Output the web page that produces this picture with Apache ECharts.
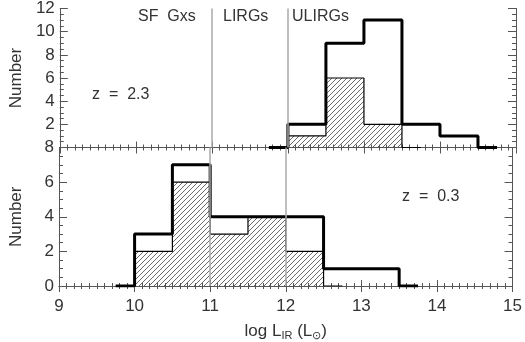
<!DOCTYPE html>
<html>
<head>
<meta charset="utf-8">
<title></title>
<script src="https://cdn.jsdelivr.net/npm/echarts@6/dist/echarts.min.js"></script>
<style>
  html, body { margin: 0; padding: 0; background: #fff; }
  #container { width: 525px; height: 342px; }
</style>
</head>
<body>
<div id="container"></div>
<script type="text/javascript">
// bin edges and counts (each count belongs to [edge i, edge i+1])
var lowzEdges = [9.75, 10, 10.5, 11, 11.5, 12, 12.5, 13, 13.5, 13.75];
var lowzTotal = [0, 3, 7, 4, 4, 4, 1, 1, 0];
var lowzHatchEdges = [9.75, 10, 10.5, 11, 11.5, 12, 12.5, 12.75];
var lowzHatched = [0, 2, 6, 3, 4, 2, 0];

var highzEdges = [11.75, 12, 12.5, 13, 13.5, 14, 14.5, 14.75];
var highzTotal = [0, 2, 9, 11, 2, 1, 0];
var highzHatchEdges = [11.75, 12, 12.5, 13, 13.5, 13.75];
var highzHatched = [0, 1, 6, 2, 0];

var classBounds = [11, 12];
var classNames = ['SF  Gxs', 'LIRGs', 'ULIRGs'];

var FONT = 'Liberation Sans';
var TXT = '#333';
var AX = '#555';

function stepData(edges, counts) {
    var out = [];
    for (var i = 0; i < counts.length; i++) {
        out.push([edges[i], counts[i]]);
    }
    out.push([edges[edges.length - 1], counts[counts.length - 1]]);
    return out;
}

// hatch pattern
var hatch = document.createElement('canvas');
hatch.width = 5;
hatch.height = 5;
var hc = hatch.getContext('2d');
hc.strokeStyle = '#444';
hc.lineWidth = 0.8;
hc.beginPath();
hc.moveTo(-1, 6); hc.lineTo(6, -1);
hc.moveTo(-1, 1); hc.lineTo(1, -1);
hc.moveTo(4, 6); hc.lineTo(6, 4);
hc.stroke();

function xAx(grid, pos, labels) {
    return {
        type: 'value', gridIndex: grid, position: pos,
        min: 9, max: 15, interval: 1,
        axisLine: { show: true, lineStyle: { color: AX, width: 1 } },
        axisTick: { show: true, inside: true, length: 6, lineStyle: { color: AX } },
        minorTick: { show: true, splitNumber: 10, length: 3, lineStyle: { color: AX } },
        splitLine: { show: false },
        axisLabel: { show: labels, margin: 12, color: TXT, fontFamily: FONT, fontSize: 17 }
    };
}

function yAx(grid, pos, max, labels, hideZero) {
    return {
        type: 'value', gridIndex: grid, position: pos,
        min: 0, max: max, interval: 2,
        name: labels ? 'Number' : '',
        nameLocation: 'middle', nameGap: 34, nameRotate: 90,
        nameTextStyle: { color: TXT, fontFamily: FONT, fontSize: 17 },
        axisLine: { show: true, lineStyle: { color: AX, width: 1 } },
        axisTick: { show: true, inside: true, length: 8, lineStyle: { color: AX } },
        minorTick: { show: true, splitNumber: 4, length: 4, lineStyle: { color: AX } },
        splitLine: { show: false },
        axisLabel: {
            show: labels, margin: 5, color: TXT, fontFamily: FONT, fontSize: 17,
            formatter: function (v) { return (hideZero && v === 0) ? '' : String(v); }
        }
    };
}

var classLines = {
    silent: true, symbol: 'none',
    label: { show: false },
    lineStyle: { color: '#aaa', width: 1.5, type: 'solid' },
    data: classBounds.map(function (b) { return { xAxis: b }; })
};

var xName = xAx(1, 'bottom', true);
xName.name = 'log L{sub|IR} (L{sub|⊙})';
xName.nameLocation = 'middle';
xName.nameGap = 35;
xName.nameTextStyle = {
    color: TXT, fontFamily: FONT, fontSize: 17,
    rich: { sub: { fontSize: 11, fontFamily: FONT, color: TXT, padding: [9, 0, 0, 0] } }
};

var chart = echarts.init(document.getElementById('container'));
chart.setOption({
    animation: false,
    grid: [
        { left: 53, right: 9, top: 0.5, height: 147 },
        { left: 53, right: 9, top: 147.5, height: 143.5 }
    ],
    xAxis: [xAx(0, 'bottom', false), xAx(0, 'top', false), xName, xAx(1, 'top', false)],
    yAxis: [yAx(0, 'left', 12, true, true), yAx(0, 'right', 12, false), yAx(1, 'left', 8, true, false), yAx(1, 'right', 8, false)],
    graphic: [
        { type: 'text', left: 138, top: 9, style: { text: classNames[0], fill: TXT, font: '16px ' + FONT } },
        { type: 'text', left: 223, top: 9, style: { text: classNames[1], fill: TXT, font: '16px ' + FONT } },
        { type: 'text', left: 292, top: 9, style: { text: classNames[2], fill: TXT, font: '16px ' + FONT } },
        { type: 'text', left: 92, top: 87, style: { text: 'z  =  2.3', fill: TXT, font: '16px ' + FONT } },
        { type: 'text', left: 402, top: 189, style: { text: 'z  =  0.3', fill: TXT, font: '16px ' + FONT } }
    ],
    series: [
        {
            type: 'line', xAxisIndex: 0, yAxisIndex: 0, step: 'end', showSymbol: false, z: 1,
            data: stepData(highzHatchEdges, highzHatched),
            lineStyle: { color: '#000', width: 1.2 },
            areaStyle: { color: { image: hatch, repeat: 'repeat' }, opacity: 1 },
            markLine: classLines
        },
        {
            type: 'line', xAxisIndex: 0, yAxisIndex: 0, step: 'end', showSymbol: false, z: 3,
            data: stepData(highzEdges, highzTotal),
            lineStyle: { color: '#000', width: 3 }
        },
        {
            type: 'line', xAxisIndex: 2, yAxisIndex: 2, step: 'end', showSymbol: false, z: 1,
            data: stepData(lowzHatchEdges, lowzHatched),
            lineStyle: { color: '#000', width: 1.2 },
            areaStyle: { color: { image: hatch, repeat: 'repeat' }, opacity: 1 },
            markLine: classLines
        },
        {
            type: 'line', xAxisIndex: 2, yAxisIndex: 2, step: 'end', showSymbol: false, z: 3,
            data: stepData(lowzEdges, lowzTotal),
            lineStyle: { color: '#000', width: 3 }
        }
    ]
});
</script>
</body>
</html>
